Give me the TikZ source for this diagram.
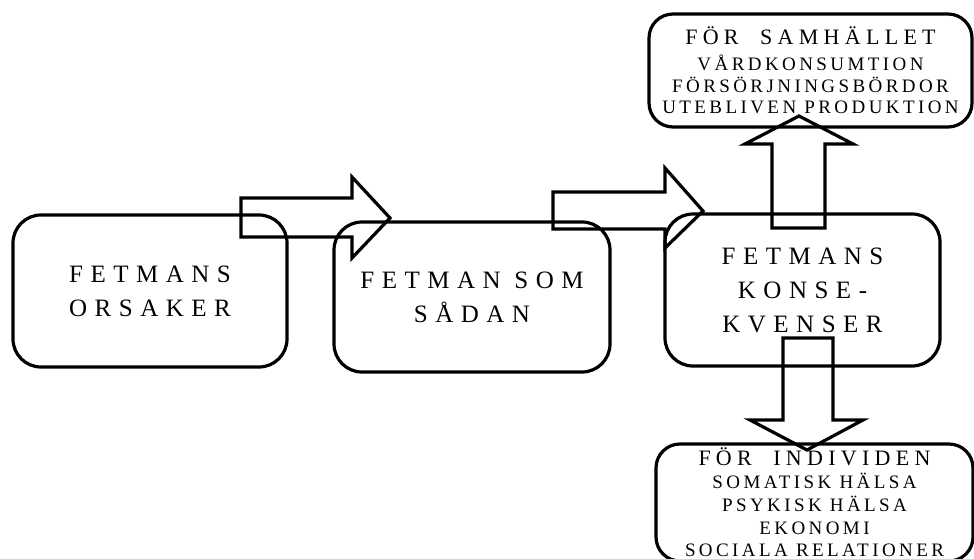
\documentclass[tikz,border=0pt]{standalone}
\usepackage{fontspec}
\setmainfont{Liberation Serif}
\newfontfamily\widefont[LetterSpace=30]{Liberation Serif}
\newfontfamily\headfont[LetterSpace=24]{Liberation Serif}
\newfontfamily\listfont[LetterSpace=18]{Liberation Serif}

\begin{document}
\begin{tikzpicture}[x=1pt,y=-1pt,
  box/.style={draw, line width=3.2pt, rounded corners=28pt, inner sep=0pt,
    outer sep=0pt, align=center},
  bigbox/.style={box, font=\widefont\fontsize{25}{34}\selectfont},
  infobox/.style={box, rounded corners=24pt,
    font=\listfont\fontsize{19}{21.8}\selectfont},
  blockarrow/.style={draw, line width=3.2pt, line join=miter}]
\useasboundingbox (0,0) rectangle (974,559);

% main chain
\node[bigbox, minimum width=274pt, minimum height=152pt] (causes)
  at (150,291) {FETMANS\\ORSAKER};
\node[bigbox, minimum width=276pt, minimum height=150pt] (obesity)
  at (472,297) {FETMAN SOM\\SÅDAN};
\node[bigbox, minimum width=275pt, minimum height=152pt] (effects)
  at (802.5,290) {FETMANS\\KONSE-\\KVENSER};

% consequences
\node[infobox, minimum width=323pt, minimum height=113pt] (society)
  at (810.5,70.5)
  {{\headfont\fontsize{22}{22}\selectfont FÖR\ \ SAMHÄLLET}\\[4pt]
   VÅRDKONSUMTION\\FÖRSÖRJNINGSBÖRDOR\\UTEBLIVEN PRODUKTION};
\node[infobox, minimum width=317pt, minimum height=117pt,
  font=\listfont\fontsize{19}{22.6}\selectfont] (individual)
  at (814.5,502.5)
  {{\headfont\fontsize{22}{22}\selectfont FÖR\ \ INDIVIDEN}\\[0.5pt]
   SOMATISK HÄLSA\\PSYKISK HÄLSA\\EKONOMI\\SOCIALA RELATIONER};

% block arrows
\draw[blockarrow] (241,198) -- (352,198) -- (352,177) -- (390,218)
  -- (352,258) -- (352,237) -- (241,237) -- cycle;
\draw[blockarrow] (553,192) -- (665,192) -- (665,168) -- (703,211)
  -- (665,248) -- (665,229) -- (553,229) -- cycle;
\draw[blockarrow] (772,228) -- (772,144) -- (745,144) -- (799,116)
  -- (853,144) -- (825,144) -- (825,228) -- cycle;
\draw[blockarrow] (783,338) -- (833,338) -- (833,420) -- (863,420)
  -- (807,450) -- (750,420) -- (783,420) -- cycle;
\end{tikzpicture}
\end{document}
